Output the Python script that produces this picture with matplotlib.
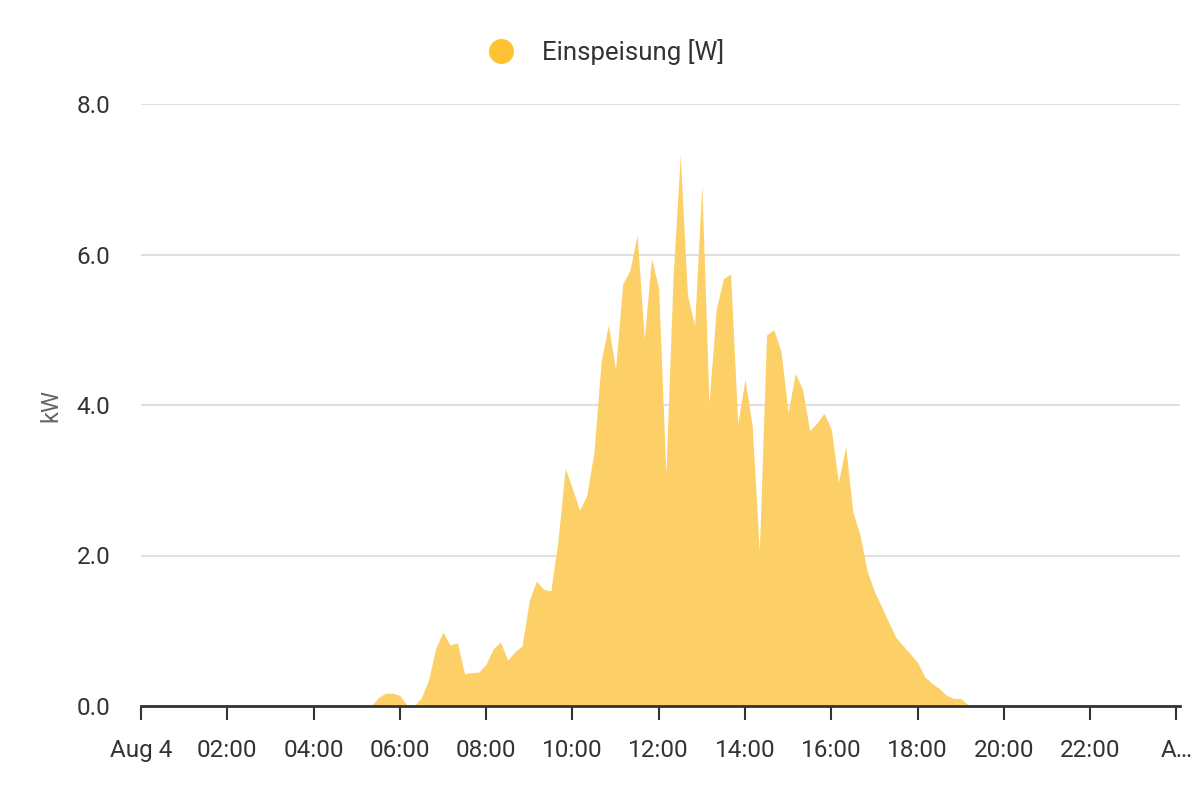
import matplotlib
matplotlib.use("Agg")
import matplotlib.pyplot as plt
from matplotlib.lines import Line2D
import pandas as pd

plt.rcParams['font.family'] = ['Roboto', 'DejaVu Sans']

# Einspeisung in kW, 10-Minuten-Werte ab 05:20
start = "2024-08-04 05:20"
einspeisung = [
    0.0, 0.11, 0.17, 0.17, 0.14, 0.01, 0.0, 0.11, 0.35, 0.77,   # 05:20-06:50
    0.98, 0.81, 0.84, 0.43, 0.445, 0.45, 0.56, 0.76, 0.85, 0.61,  # 07:00-08:30
    0.72, 0.80, 1.40, 1.66, 1.55, 1.53, 2.2, 3.16, 2.89, 2.6,    # 08:40-10:10
    2.8, 3.38, 4.58, 5.06, 4.47, 5.61, 5.79, 6.26, 4.88, 5.95,   # 10:20-11:50
    5.55, 3.07, 5.7, 7.32, 5.46, 5.06, 6.92, 4.02, 5.27, 5.68,   # 12:00-13:30
    5.74, 3.75, 4.34, 3.73, 2.05, 4.93, 5.0, 4.72, 3.90, 4.42,   # 13:40-15:10
    4.21, 3.66, 3.76, 3.89, 3.68, 2.97, 3.45, 2.58, 2.27, 1.79,  # 15:20-16:50
    1.52, 1.32, 1.11, 0.91, 0.80, 0.69, 0.58, 0.39, 0.30, 0.235, # 17:00-18:30
    0.146, 0.10, 0.10, 0.02, 0.0,                                # 18:40-19:20
]
zeiten = pd.date_range(start, periods=len(einspeisung), freq="10min")

tick_labels = ["Aug 4", "02:00", "04:00", "06:00", "08:00", "10:00", "12:00",
               "14:00", "16:00", "18:00", "20:00", "22:00", "A\u2026"]
y_ticks = [0, 2, 4, 6, 8]

fill_color = "#FDCF67"
legend_color = "#FFC233"
text_color = "#333333"

fig = plt.figure(figsize=(12, 8), dpi=100)
ax = fig.add_axes([0.1175, 0.1175, 0.8658, 0.7525])

ax.fill_between(zeiten, einspeisung, 0, color=fill_color, linewidth=0, zorder=2)

day0 = pd.Timestamp("2024-08-04 00:00")
day1 = pd.Timestamp("2024-08-05 00:00")
ax.set_xlim(day0, day1 + pd.Timedelta(minutes=5))
ax.set_ylim(0, 8)

xt = pd.date_range(day0, day1, freq="2h")
ax.set_xticks(xt)
ax.set_xticklabels(tick_labels)
ax.set_yticks(y_ticks)
ax.set_yticklabels([f"{v:.1f}" for v in y_ticks])

ax.tick_params(axis='x', length=10, width=1.5, color=text_color, labelsize=17.5,
               labelcolor=text_color, pad=14)
ax.tick_params(axis='y', length=0, labelsize=17.5, labelcolor=text_color, pad=22)

ax.grid(axis='y', color="#e0e0e0", linewidth=1.5, zorder=0)
for s in ['top', 'right', 'left']:
    ax.spines[s].set_visible(False)
ax.spines['bottom'].set_color(text_color)
ax.spines['bottom'].set_linewidth(2)
ax.spines['bottom'].set_zorder(3)

ax.set_ylabel("kW", fontsize=17, color="#666666", labelpad=10)

handle = Line2D([], [], marker='o', linestyle='none', markersize=17,
                markerfacecolor=legend_color, markeredgecolor=legend_color)
fig.legend([handle], ["Einspeisung [W]"], loc='center', bbox_to_anchor=(0.5, 0.935),
           frameon=False, fontsize=18.5, labelcolor=text_color, handletextpad=0.6)

fig.savefig("out.png", dpi=100)
